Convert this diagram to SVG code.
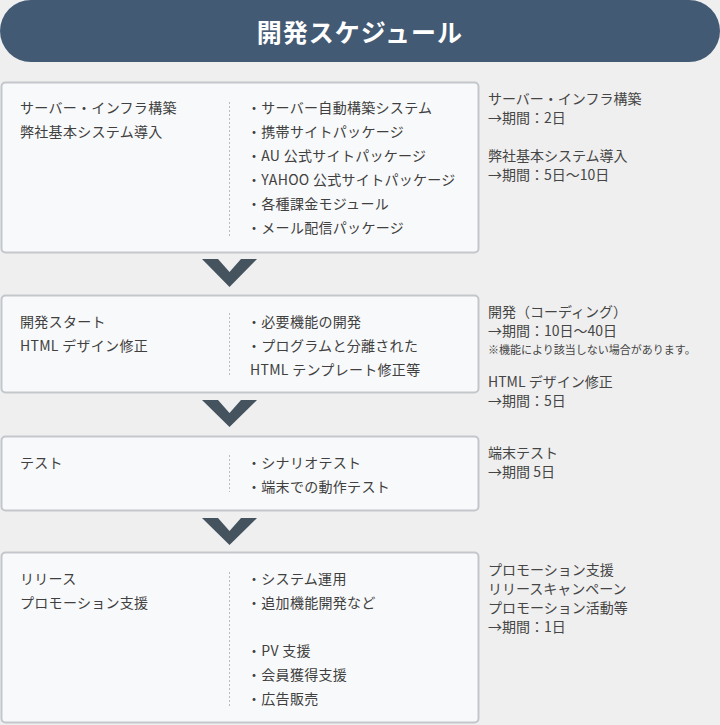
<svg xmlns="http://www.w3.org/2000/svg" width="720" height="725" viewBox="0 0 720 725">
<style>
text{font-family:"Noto Sans CJK JP","Noto Sans",sans-serif;fill:#404040;font-size:14px;letter-spacing:0.3px}
.box{fill:#f8f9fa;stroke:#c3c7cb;stroke-width:2}
.div{stroke:#b8bcc0;stroke-width:1;stroke-dasharray:2 2}
.chev{fill:#45535f}
.side{font-size:14px;fill:#454545;letter-spacing:0}
.note{font-size:11px}
.title{font-size:25px;font-weight:bold;fill:#ffffff;letter-spacing:1px}
</style>
<rect x="0" y="0" width="720" height="725" fill="#efefef"/>
<g id="title">
<rect x="0" y="0" width="720" height="62" rx="31" ry="31" fill="#435a74"/>
<text class="title" x="360" y="42" text-anchor="middle">開発スケジュール</text>
</g>
<g id="connectors">
<polygon class="chev" points="202,259 218,259 229.5,272 241,259 257,259 229.5,287"/>
<polygon class="chev" points="202,400 218,400 229.5,413 241,400 257,400 229.5,427"/>
<polygon class="chev" points="202,518 218,518 229.5,531 241,518 257,518 229.5,545"/>
</g>
<g id="step1">
<rect class="box" x="1.5" y="82.5" width="477" height="170" rx="4"/>
<line class="div" x1="229.5" y1="102" x2="229.5" y2="237"/>
<text x="20" y="113">サーバー・インフラ構築</text>
<text x="20" y="137">弊社基本システム導入</text>
<text x="247" y="113">・サーバー自動構築システム</text>
<text x="247" y="137">・携帯サイトパッケージ</text>
<text x="247" y="161">・AU 公式サイトパッケージ</text>
<text x="247" y="185">・YAHOO 公式サイトパッケージ</text>
<text x="247" y="209">・各種課金モジュール</text>
<text x="247" y="233">・メール配信パッケージ</text>
</g>
<g id="note1">
<text class="side" x="488" y="104">サーバー・インフラ構築</text>
<text class="side" x="488" y="123">→期間：2日</text>
<text class="side" x="488" y="161">弊社基本システム導入</text>
<text class="side" x="488" y="180">→期間：5日〜10日</text>
</g>
<g id="step2">
<rect class="box" x="1.5" y="295.5" width="477" height="97" rx="4"/>
<line class="div" x1="229.5" y1="313" x2="229.5" y2="375"/>
<text x="20" y="327">開発スタート</text>
<text x="20" y="351">HTML デザイン修正</text>
<text x="247" y="327">・必要機能の開発</text>
<text x="247" y="351">・プログラムと分離された</text>
<text x="250" y="375">HTML テンプレート修正等</text>
</g>
<g id="note2">
<text class="side" x="488" y="317">開発（コーディング）</text>
<text class="side" x="488" y="336">→期間：10日〜40日</text>
<text class="side note" x="488" y="354">※機能により該当しない場合があります。</text>
<text class="side" x="488" y="387">HTML デザイン修正</text>
<text class="side" x="488" y="406">→期間：5日</text>
</g>
<g id="step3">
<rect class="box" x="1.5" y="436.5" width="477" height="74" rx="4"/>
<line class="div" x1="229.5" y1="455" x2="229.5" y2="492"/>
<text x="20" y="468">テスト</text>
<text x="247" y="468">・シナリオテスト</text>
<text x="247" y="492">・端末での動作テスト</text>
</g>
<g id="note3">
<text class="side" x="488" y="458">端末テスト</text>
<text class="side" x="488" y="477">→期間 5日</text>
</g>
<g id="step4">
<rect class="box" x="1.5" y="552.5" width="477" height="170" rx="4"/>
<line class="div" x1="229.5" y1="572" x2="229.5" y2="707"/>
<text x="20" y="584">リリース</text>
<text x="20" y="608">プロモーション支援</text>
<text x="247" y="584">・システム運用</text>
<text x="247" y="608">・追加機能開発など</text>
<text x="247" y="656">・PV 支援</text>
<text x="247" y="680">・会員獲得支援</text>
<text x="247" y="704">・広告販売</text>
</g>
<g id="note4">
<text class="side" x="488" y="575">プロモーション支援</text>
<text class="side" x="488" y="594">リリースキャンペーン</text>
<text class="side" x="488" y="613">プロモーション活動等</text>
<text class="side" x="488" y="632">→期間：1日</text>
</g>
</svg>
